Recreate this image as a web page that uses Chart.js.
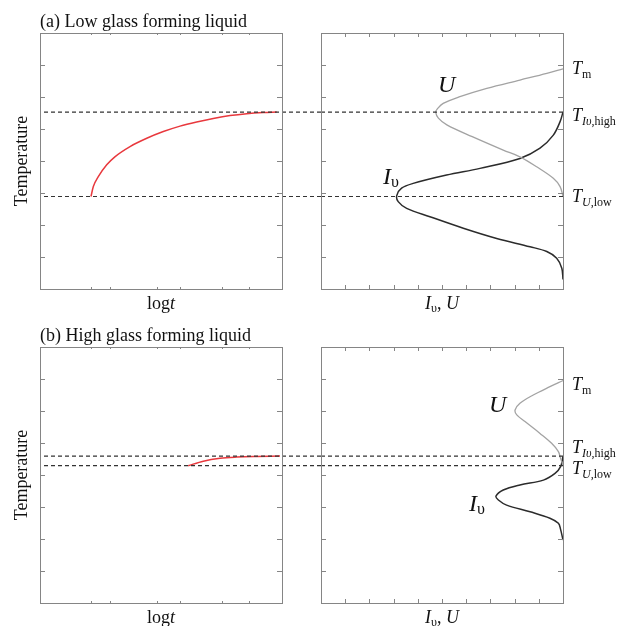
<!DOCTYPE html>
<html><head><meta charset="utf-8">
<script src="https://cdn.jsdelivr.net/npm/chart.js@4.4.1/dist/chart.umd.min.js"></script>
<style>
html,body{margin:0;padding:0;background:#fff;}
#wrap{position:relative;width:618px;height:626px;overflow:hidden;}
canvas{position:absolute;}
</style></head><body>
<div id="wrap">
<canvas id="aL" width="321" height="313" style="left:0px;top:0px"></canvas>
<canvas id="aR" width="318" height="313" style="left:300px;top:0px"></canvas>
<canvas id="bL" width="321" height="313" style="left:0px;top:313px"></canvas>
<canvas id="bR" width="318" height="313" style="left:300px;top:313px"></canvas>
</div>
<script>
// ---------- axes ----------
const timeRange = [1, 2000];
const timeTicks = [1,2,3,4,5,6,7,8,9,10,20,30,40,50,60,70,80,90,100,200,300,400,500,600,700,800,900,1000,2000];
const tempRange = [0, 8];
const tempTicks = [0,1,2,3,4,5,6,7,8];
const rateRange = [0, 10];
const rateTicks = [0,1,2,3,4,5,6,7,8,9,10];

// ---------- (a) low glass forming liquid ----------
const aTitle = "(a) Low glass forming liquid";
const aTm = 6.88, aTIhigh = 5.53, aTUlow = 2.89;
const aTTT_time = [4.96, 5.34, 6.24, 8.13, 10.5, 16.9, 28.6, 48.1, 81.3, 137, 231, 391, 661, 1112, 1695];
const aTTT_temp = [2.89, 3.20, 3.51, 3.88, 4.13, 4.45, 4.71, 4.92, 5.09, 5.22, 5.33, 5.42, 5.48, 5.515, 5.53];
const aU_temp = [6.88, 6.74, 6.53, 6.27, 6.01, 5.80, 5.62, 5.53, 5.34, 5.13, 4.76, 4.34, 4.13, 3.82, 3.46, 3.20, 2.90];
const aU_rate = [0.0, 0.67, 1.78, 3.15, 4.26, 4.95, 5.20, 5.26, 5.15, 4.80, 3.75, 2.47, 1.78, 1.09, 0.40, 0.12, 0.0];
const aI_temp = [5.53, 5.23, 4.81, 4.40, 4.08, 3.77, 3.56, 3.30, 3.15, 2.92, 2.73, 2.52, 2.26, 1.90, 1.58, 1.32, 1.17, 0.96, 0.65, 0.30];
const aI_rate = [0.0, 0.12, 0.40, 0.95, 1.78, 3.43, 4.81, 6.19, 6.67, 6.87, 6.81, 6.46, 5.50, 4.12, 2.74, 1.36, 0.67, 0.26, 0.05, 0.0];
const aSideLabelTemp = [6.72, 5.25, 2.72];        // Tm, TIυ,high, TU,low
const aULabel = [5.17, 6.16], aILabel = [7.44, 3.28]; // [rate, temp]

// ---------- (b) high glass forming liquid ----------
const bTitle = "(b) High glass forming liquid";
const bTm = 6.94, bTIhigh = 4.59, bTUlow = 4.29;
const bTTT_time = [105, 169, 286, 483, 813, 1880];
const bTTT_temp = [4.29, 4.43, 4.52, 4.56, 4.58, 4.59];
const bU_temp = [6.95, 6.76, 6.50, 6.24, 6.03, 5.88, 5.67, 5.30, 4.99, 4.73, 4.52, 4.31];
const bU_rate = [0.0, 0.54, 1.23, 1.78, 1.98, 1.91, 1.57, 0.95, 0.47, 0.19, 0.10, 0.0];
const bI_temp = [4.59, 4.26, 4.05, 3.84, 3.69, 3.53, 3.34, 3.22, 3.06, 2.85, 2.65, 2.49, 2.30, 1.97];
const bI_rate = [0.0, 0.10, 0.33, 0.81, 1.78, 2.47, 2.77, 2.67, 2.33, 1.36, 0.54, 0.19, 0.10, 0.0];
const bSideLabelTemp = [6.66, 4.69, 4.03];
const bULabel = [3.06, 5.97], bILabel = [3.88, 2.88];

// ---------- styling ----------
const SERIF = '"Liberation Serif","Times New Roman",Times,serif';
const FRAME = '#858585';
const RED = '#e8383d', GRAY = '#a3a3a3', DARK = '#2b2b2b';

function fnt(p){ return (p.i ? 'italic ' : '') + p.s + 'px ' + SERIF; }
function rich(ctx, x, y, parts, align){
  let w = 0;
  parts.forEach(p => { ctx.font = fnt(p); p.w = ctx.measureText(p.t).width; w += p.w; });
  let cx = align === 'center' ? x - w/2 : x;
  ctx.textAlign = 'left'; ctx.textBaseline = 'alphabetic';
  parts.forEach(p => { ctx.font = fnt(p); ctx.fillText(p.t, cx, y + (p.dy || 0)); cx += p.w; });
}
const zip = (xs, ys) => xs.map((v, i) => ({x: v, y: ys[i]}));

const panelPlugin = {
  id: 'panel',
  afterDatasetsDraw(chart, args, o) {
    const {ctx, chartArea: a} = chart;
    const x = chart.scales.x, y = chart.scales.y;
    ctx.save();
    // dashed temperature levels
    ctx.strokeStyle = '#333'; ctx.lineWidth = 1.2; ctx.setLineDash([4, 3]);
    o.dashed.forEach(v => {
      const py = y.getPixelForValue(v);
      ctx.beginPath();
      ctx.moveTo(o.dashToEdge ? a.left + 4 : a.left, py);
      ctx.lineTo(o.dashToEdge ? chart.width : a.right, py);
      ctx.stroke();
    });
    ctx.setLineDash([]);
    // frame
    ctx.strokeStyle = FRAME; ctx.lineWidth = 1;
    ctx.strokeRect(Math.round(a.left) + 0.5, Math.round(a.top) + 0.5, Math.round(a.right - a.left), Math.round(a.bottom - a.top));
    // inner ticks
    ctx.beginPath();
    x.ticks.forEach(t => {
      const px = Math.round(x.getPixelForValue(t.value)) + 0.5;
      if (px <= a.left + 1 || px >= a.right - 1) return;
      const len = o.logX ? (Math.abs(Math.log10(t.value) % 1) < 1e-9 ? 4 : 2) : 4;
      ctx.moveTo(px, a.bottom); ctx.lineTo(px, a.bottom - len);
      ctx.moveTo(px, a.top); ctx.lineTo(px, a.top + len);
    });
    y.ticks.forEach(t => {
      const py = Math.round(y.getPixelForValue(t.value)) + 0.5;
      if (py <= a.top + 1 || py >= a.bottom - 1) return;
      ctx.moveTo(a.left, py); ctx.lineTo(a.left + 5, py);
      ctx.moveTo(a.right, py); ctx.lineTo(a.right - 5, py);
    });
    ctx.stroke();
    // texts
    ctx.fillStyle = '#111';
    o.texts(ctx, a, x, y, chart);
    ctx.restore();
  }
};

function leftPanel(id, title, tttTime, tttTemp, dashed) {
  new Chart(document.getElementById(id), {
    type: 'scatter',
    data: { datasets: [{
      data: zip(tttTime, tttTemp), showLine: true, borderColor: RED, borderWidth: 1.5,
      pointRadius: 0, cubicInterpolationMode: 'monotone', fill: false
    }]},
    options: {
      responsive: false, animation: false, devicePixelRatio: 1, events: [],
      layout: { padding: { left: 40, right: 39, top: id === 'aL' ? 33 : 34, bottom: id === 'aL' ? 24 : 23 } },
      scales: {
        x: { type: 'logarithmic', display: false, min: timeRange[0], max: timeRange[1],
             afterBuildTicks: s => { s.ticks = timeTicks.map(v => ({value: v})); } },
        y: { type: 'linear', display: false, min: tempRange[0], max: tempRange[1],
             afterBuildTicks: s => { s.ticks = tempTicks.map(v => ({value: v})); } }
      },
      plugins: {
        legend: { display: false }, tooltip: { enabled: false },
        panel: {
          dashed, dashToEdge: true, logX: true,
          texts: (ctx, a) => {
            rich(ctx, a.left, a.top - 6, [{t: title, s: 18}]);
            ctx.save();
            ctx.translate(27, (a.top + a.bottom) / 2);
            ctx.rotate(-Math.PI / 2);
            rich(ctx, 0, 0, [{t: 'Temperature', s: 18}], 'center');
            ctx.restore();
            rich(ctx, (a.left + a.right) / 2, a.bottom + 19.5, [{t: 'log', s: 18}, {t: 't', s: 18, i: true}], 'center');
          }
        }
      }
    },
    plugins: [panelPlugin]
  });
}

function rightPanel(id, uT, uR, iT, iR, dashed, sideTemps, uLab, iLab) {
  new Chart(document.getElementById(id), {
    type: 'scatter',
    data: { datasets: [
      { data: zip(uR, uT), showLine: true, borderColor: GRAY, borderWidth: 1.3, pointRadius: 0, tension: 0.35, fill: false },
      { data: zip(iR, iT), showLine: true, borderColor: DARK, borderWidth: 1.5, pointRadius: 0, tension: 0.35, fill: false }
    ]},
    options: {
      responsive: false, animation: false, devicePixelRatio: 1, events: [],
      layout: { padding: { left: 21, right: 55, top: id === 'aR' ? 33 : 34, bottom: id === 'aR' ? 24 : 23 } },
      scales: {
        x: { type: 'linear', display: false, reverse: true, min: rateRange[0], max: rateRange[1],
             afterBuildTicks: s => { s.ticks = rateTicks.map(v => ({value: v})); } },
        y: { type: 'linear', display: false, min: tempRange[0], max: tempRange[1],
             afterBuildTicks: s => { s.ticks = tempTicks.map(v => ({value: v})); } }
      },
      plugins: {
        legend: { display: false }, tooltip: { enabled: false },
        panel: {
          dashed, dashToEdge: false, logX: false,
          texts: (ctx, a, x, y) => {
            rich(ctx, (a.left + a.right) / 2, a.bottom + 19.5,
              [{t: 'I', s: 18, i: true}, {t: 'υ', s: 12, dy: 3}, {t: ', ', s: 18}, {t: 'U', s: 18, i: true}], 'center');
            const lx = a.right + 9;
            rich(ctx, lx, y.getPixelForValue(sideTemps[0]), [{t: 'T', s: 18, i: true}, {t: 'm', s: 12, dy: 4}]);
            rich(ctx, lx, y.getPixelForValue(sideTemps[1]), [{t: 'T', s: 18, i: true}, {t: 'Iυ', s: 12, i: true, dy: 4}, {t: ',high', s: 12, dy: 4}]);
            rich(ctx, lx, y.getPixelForValue(sideTemps[2]), [{t: 'T', s: 18, i: true}, {t: 'U', s: 12, i: true, dy: 4}, {t: ',low', s: 12, dy: 4}]);
            rich(ctx, x.getPixelForValue(uLab[0]), y.getPixelForValue(uLab[1]), [{t: 'U', s: 24, i: true}]);
            rich(ctx, x.getPixelForValue(iLab[0]), y.getPixelForValue(iLab[1]), [{t: 'I', s: 24, i: true}, {t: 'υ', s: 16, dy: 3}]);
          }
        }
      }
    },
    plugins: [panelPlugin]
  });
}

leftPanel('aL', aTitle, aTTT_time, aTTT_temp, [aTIhigh, aTUlow]);
rightPanel('aR', aU_temp, aU_rate, aI_temp, aI_rate, [aTIhigh, aTUlow], aSideLabelTemp, aULabel, aILabel);
leftPanel('bL', bTitle, bTTT_time, bTTT_temp, [bTIhigh, bTUlow]);
rightPanel('bR', bU_temp, bU_rate, bI_temp, bI_rate, [bTIhigh, bTUlow], bSideLabelTemp, bULabel, bILabel);
</script>
</body></html>
